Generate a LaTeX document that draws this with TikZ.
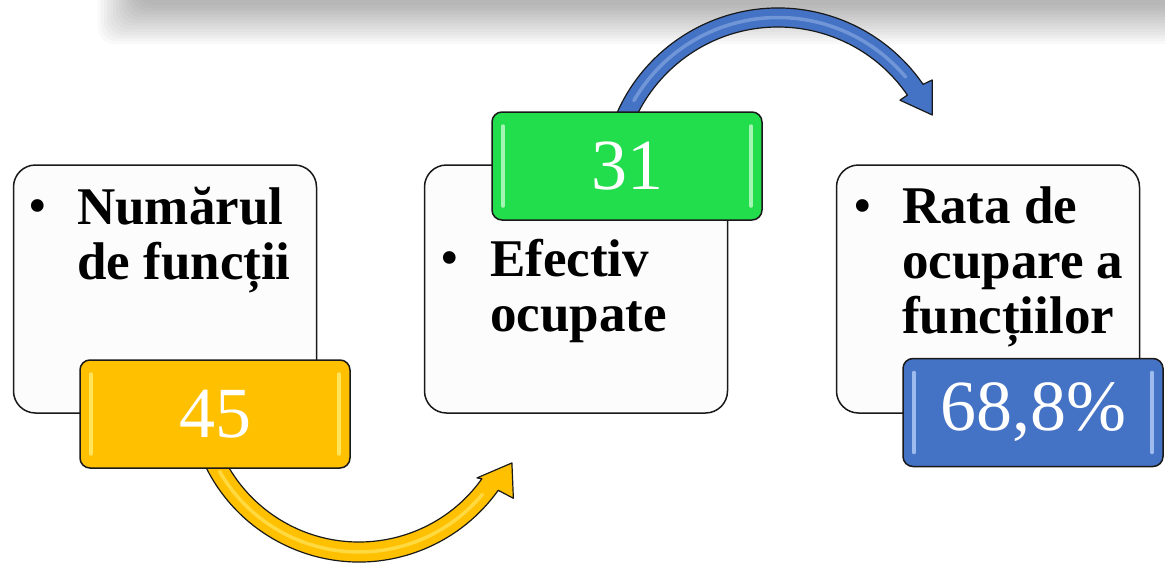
\documentclass[tikz,border=0pt]{standalone}
\usepackage{fontspec}
\setmainfont{Liberation Serif}
\usetikzlibrary{positioning,calc}
\definecolor{boxfill}{HTML}{FCFCFC}
\definecolor{gold}{HTML}{FFC000}
\definecolor{goldlight}{HTML}{FFE45C}
\definecolor{leaf}{HTML}{22DD4C}
\definecolor{leaflight}{HTML}{A4F5B4}
\definecolor{ocean}{HTML}{4472C4}
\definecolor{oceanlight}{HTML}{9DBBEC}
\tikzset{
  card/.style={draw=black!90, fill=boxfill, rounded corners=22pt, line width=1.5pt, minimum width=303pt, minimum height=248pt, inner sep=0pt, outer sep=0pt},
  valbox/.style={draw=black!90, line width=1.5pt, rounded corners=10pt, minimum width=270pt, minimum height=108pt, text=white, font=\fontsize{72}{72}\selectfont, inner sep=0pt, outer sep=0pt},
  itemtext/.style={font=\fontsize{53}{55}\selectfont\bfseries, align=left, anchor=north west, inner sep=0pt},
  bullet/.style={font=\fontsize{53}{55}\selectfont, anchor=base, inner sep=0pt},
  bandarrow/.style={draw=black!90, line width=1.2pt, line join=round},
  gloss/.style={line width=3.5pt, line cap=round}
}
\begin{document}
\begin{tikzpicture}[x=1pt, y=1pt]
\useasboundingbox (0,0) rectangle (1165,-563);
% soft shadow along the top
\foreach \i in {0,...,13}
  \fill[black, opacity=0.024, rounded corners=16pt] (98+3*\i,30) rectangle (1200,-44+3*\i);
% cards
\node[card] (numar) at (165,-289) {};
\node[card, right=108pt of numar] (efectiv) {};
\node[card, right=109pt of efectiv] (rata) {};
% curved arrows
\coordinate (yc) at (359,-391);
\coordinate (bc) at (778,-184);
\filldraw[bandarrow, fill=gold] ([shift={(-157:171)}]yc) arc[start angle=-157, end angle=-35.5, radius=171]
  -- ([shift={(-34.8:188)}]yc) -- ([shift={(-25.2:169)}]yc) -- ([shift={(-36.4:146.5)}]yc)
  -- ([shift={(-35.5:151)}]yc) arc[start angle=-35.5, end angle=-157, radius=151] -- cycle;
\draw[gloss, goldlight, opacity=0.7] ([shift={(-150:161)}]yc) arc[start angle=-150, end angle=-40, radius=161];
\filldraw[bandarrow, fill=ocean] ([shift={(160:176)}]bc) arc[start angle=160, end angle=34.5, radius=176]
  -- ([shift={(34:186)}]bc) -- ([shift={(24.1:169)}]bc) -- ([shift={(34.5:148)}]bc)
  -- ([shift={(34.5:157)}]bc) arc[start angle=34.5, end angle=160, radius=157] -- cycle;
\draw[gloss, oceanlight, opacity=0.5] ([shift={(150:166.5)}]bc) arc[start angle=150, end angle=40, radius=166.5];
% value boxes
\node[valbox, fill=gold] (v45) at (215,-414) {45};
\node[valbox, fill=leaf] (v31) at (627,-166) {31};
\node[valbox, fill=ocean, minimum width=260pt] (v68) at (1033,-412.5) {68,8\%};
\foreach \v/\c in {v45/goldlight, v31/leaflight, v68/oceanlight} {
  \draw[gloss, \c] ([shift={(11,-14)}]\v.north west) -- ([shift={(11,14)}]\v.south west);
  \draw[gloss, \c] ([shift={(-11,-14)}]\v.north east) -- ([shift={(-11,14)}]\v.south east);
}
% texts
\node[bullet] (b1) at (38,-223) {•};
\node[itemtext] (t1) at (77,-187) {Numărul\\de funcții};
\node[bullet] (b2) at (450,-275) {•};
\node[itemtext] (t2) at (490,-238.5) {Efectiv\\ocupate};
\node[bullet] (b3) at (863,-223) {•};
\node[itemtext] (t3) at (902,-187) {Rata de\\ocupare a\\funcțiilor};
\end{tikzpicture}
\end{document}
